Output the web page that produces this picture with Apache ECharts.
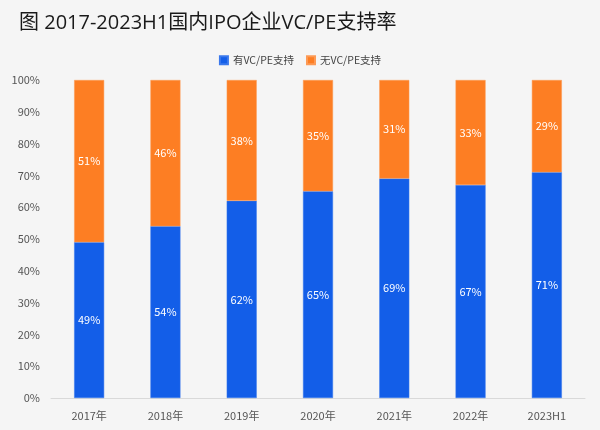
<!DOCTYPE html>
<html><head><meta charset="utf-8">
<script src="https://cdn.jsdelivr.net/npm/echarts@6/dist/echarts.min.js"></script>
<style>html,body{margin:0;padding:0;background:#f5f5f5}#c{width:600px;height:430px}</style>
</head><body><div id="c"></div>
<script>
const categories = ['2017年','2018年','2019年','2020年','2021年','2022年','2023H1'];
const withVCPE = [49,54,62,65,69,67,71];
const withoutVCPE = [51,46,38,35,31,33,29];
const yTicks = [0,10,20,30,40,50,60,70,80,90,100];

const chart = echarts.init(document.getElementById('c'));
const font = '"Noto Sans CJK SC","Noto Sans",sans-serif';
chart.setOption({
  backgroundColor: '#f5f5f5',
  textStyle: {fontFamily: font},
  title: {text: '图 2017-2023H1国内IPO企业VC/PE支持率', left: 14, top: 8,
    textStyle: {fontSize: 20, fontWeight: 'normal', color: '#1a1a1a', fontFamily: '"Open Sans","Noto Sans CJK SC",sans-serif'}},
  legend: {top: 50, left: 'center', itemWidth: 8, itemHeight: 8, itemGap: 12, icon: 'rect',
    textStyle: {fontSize: 10.5, color: '#444', fontFamily: font}},
  grid: {left: 51, right: 15, top: 80, bottom: 32},
  xAxis: {type: 'category', data: categories,
    axisLine: {lineStyle: {color: '#d9d9d9'}}, axisTick: {show: false},
    axisLabel: {color: '#555', fontSize: 11, margin: 12}},
  yAxis: {type: 'value', min: 0, max: 100, interval: 10,
    axisLabel: {color: '#555', fontSize: 11, margin: 11, formatter: v => yTicks.includes(v) ? v + '%' : ''},
    splitLine: {show: false}, axisLine: {show: false}, axisTick: {show: false}},
  series: [
    {name: '有VC/PE支持', type: 'bar', stack: 't', data: withVCPE, barWidth: 30,
      itemStyle: {color: '#135ee8', borderColor: '#3a78ec', borderWidth: 0.5},
      label: {show: true, position: 'inside', color: '#fff', fontSize: 11, formatter: '{c}%'}},
    {name: '无VC/PE支持', type: 'bar', stack: 't', data: withoutVCPE, barWidth: 30,
      itemStyle: {color: '#fd7e23', borderColor: '#fd9a55', borderWidth: 0.5},
      label: {show: true, position: 'inside', color: '#fff', fontSize: 11, formatter: '{c}%'}}
  ]
});
</script></body></html>
